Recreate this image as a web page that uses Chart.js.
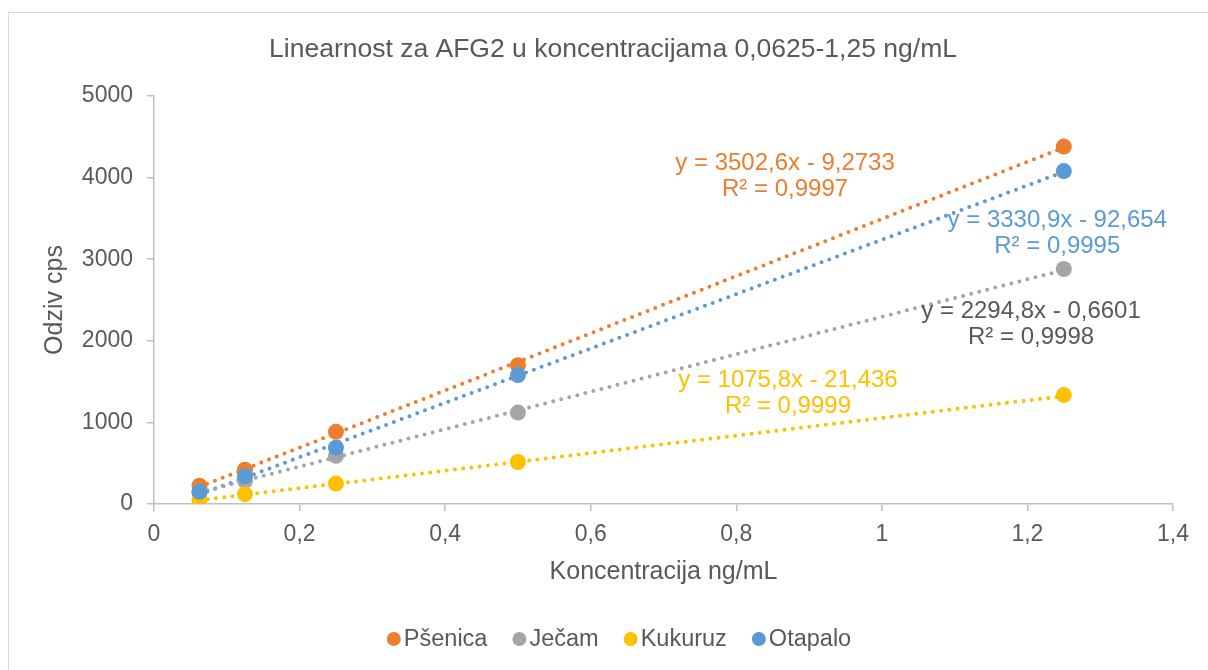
<!DOCTYPE html>
<html>
<head>
<meta charset="utf-8">
<title>Linearnost za AFG2</title>
<script src="https://cdn.jsdelivr.net/npm/chart.js@4.4.1/dist/chart.umd.min.js"></script>
<style>
  html, body { margin: 0; padding: 0; background: #fff; }
  #wrap { width: 1208px; height: 670px; }
</style>
</head>
<body>
<div id="wrap"><canvas id="chart" width="1208" height="670"></canvas></div>
<script>
// data
const concentrations = [0.0625, 0.125, 0.25, 0.5, 1.25];
const seriesNames = ['Pšenica', 'Ječam', 'Kukuruz', 'Otapalo'];
const psenica = [225, 420, 885, 1700, 4380];
const jecam = [145, 285, 590, 1120, 2880];
const kukuruz = [50, 120, 250, 515, 1335];
const otapalo = [150, 340, 690, 1580, 4080];
// trendline equations as printed on the chart
const slopes = [3502.6, 2294.8, 1075.8, 3330.9];
const intercepts = [-9.2733, -0.6601, -21.436, -92.654];
const rSquared = [0.9997, 0.9998, 0.9999, 0.9995];
const xTickLabels = ['0', '0,2', '0,4', '0,6', '0,8', '1', '1,2', '1,4'];
const yTickLabels = ['0', '1000', '2000', '3000', '4000', '5000'];

const FONT = "'Liberation Sans', Arial, sans-serif";
const TEXT = '#595959';
const AXIS = '#bfbfbf';
const colors = ['#ED7D31', '#A5A5A5', '#FFC000', '#5B9BD5'];
const labelColors = ['#ED7D31', '#595959', '#FFC000', '#5B9BD5'];
const values = [psenica, jecam, kukuruz, otapalo];

function fmt(v) {
  return String(v).replace('.', ',');
}

const datasets = [];
values.forEach((vals, i) => {
  datasets.push({
    label: seriesNames[i],
    data: concentrations.map((c, j) => ({ x: c, y: vals[j] })),
    backgroundColor: colors[i],
    borderWidth: 0,
    pointRadius: 8,
    pointHoverRadius: 8,
    showLine: false,
    order: 4 - i
  });
});
values.forEach((vals, i) => {
  const x0 = concentrations[0];
  const x1 = concentrations[concentrations.length - 1];
  datasets.push({
    label: seriesNames[i] + ' trend',
    data: [
      { x: x0, y: slopes[i] * x0 + intercepts[i] },
      { x: x1, y: slopes[i] * x1 + intercepts[i] }
    ],
    showLine: true,
    borderColor: colors[i],
    borderWidth: 4,
    borderDash: [0, 8.3],
    borderCapStyle: 'round',
    pointRadius: 0,
    order: 10 + i
  });
});

const framePlugin = {
  id: 'frame',
  beforeDraw(chart) {
    const ctx = chart.ctx;
    ctx.save();
    ctx.fillStyle = '#fff';
    ctx.fillRect(0, 0, chart.width, chart.height);
    ctx.strokeStyle = '#d9d9d9';
    ctx.lineWidth = 1;
    ctx.strokeRect(8.5, 12.5, 1300, 700);
    ctx.restore();
  }
};

const trendLabels = {
  id: 'trendLabels',
  afterDatasetsDraw(chart, args, opts) {
    const { ctx, scales: { x, y } } = chart;
    ctx.save();
    ctx.font = '24px ' + FONT;
    ctx.textAlign = 'center';
    ctx.textBaseline = 'middle';
    opts.anchors.forEach((a, i) => {
      const px = x.getPixelForValue(a[0]);
      const py = y.getPixelForValue(a[1]);
      const b = intercepts[i];
      ctx.fillStyle = labelColors[i];
      ctx.fillText('y = ' + fmt(slopes[i]) + 'x ' + (b < 0 ? '- ' : '+ ') + fmt(Math.abs(b)), px, py - 13);
      ctx.fillText('R² = ' + fmt(rSquared[i]), px, py + 13);
    });
    ctx.restore();
  }
};

const bottomLegend = {
  id: 'bottomLegend',
  afterDraw(chart, args, opts) {
    const ctx = chart.ctx;
    ctx.save();
    ctx.font = '23.5px ' + FONT;
    ctx.textBaseline = 'middle';
    const r = 7, gapText = 3, gapItem = 25;
    const widths = seriesNames.map(n => 2 * r + gapText + ctx.measureText(n).width);
    const total = widths.reduce((s, w) => s + w, 0) + gapItem * (widths.length - 1);
    let x = opts.centerX - total / 2;
    seriesNames.forEach((n, i) => {
      ctx.fillStyle = colors[i];
      ctx.beginPath();
      ctx.arc(x + r, opts.y, r, 0, Math.PI * 2);
      ctx.fill();
      ctx.fillStyle = TEXT;
      ctx.fillText(n, x + 2 * r + gapText, opts.y + 1);
      x += widths[i] + gapItem;
    });
    ctx.restore();
  }
};

new Chart(document.getElementById('chart'), {
  type: 'scatter',
  data: { datasets: datasets },
  plugins: [framePlugin, trendLabels, bottomLegend],
  options: {
    responsive: false,
    animation: false,
    devicePixelRatio: 1,
    layout: { padding: { left: 18, right: 0, top: 0, bottom: 76 } },
    plugins: {
      legend: { display: false },
      tooltip: { enabled: false },
      title: {
        display: true,
        text: 'Linearnost za AFG2 u koncentracijama 0,0625-1,25 ng/mL',
        color: TEXT,
        font: { family: FONT, size: 26.5, weight: 'normal' },
        padding: { top: 34, bottom: 30.2 }
      },
      trendLabels: {
        anchors: [[0.867, 4020], [1.205, 2200], [0.871, 1360], [1.241, 3321]]
      },
      bottomLegend: { centerX: 619, y: 639 }
    },
    scales: {
      x: {
        type: 'linear',
        min: 0,
        max: 1.4,
        ticks: {
          stepSize: 0.2,
          callback: (v, i) => xTickLabels[i],
          color: TEXT,
          font: { family: FONT, size: 23 },
          padding: 10,
          maxRotation: 0
        },
        grid: { drawOnChartArea: false, drawTicks: true, tickLength: 7, color: AXIS, lineWidth: 1.5 },
        border: { color: AXIS, width: 1.5 },
        title: {
          display: true,
          text: 'Koncentracija ng/mL',
          color: TEXT,
          font: { family: FONT, size: 25 },
          padding: { top: 0, bottom: 7 }
        },
        afterFit: s => { s.height = 90; }
      },
      y: {
        type: 'linear',
        min: 0,
        max: 5000,
        ticks: {
          stepSize: 1000,
          callback: (v, i) => yTickLabels[i],
          color: TEXT,
          font: { family: FONT, size: 23 },
          padding: 14
        },
        grid: { drawOnChartArea: false, drawTicks: true, tickLength: 7, color: AXIS, lineWidth: 1.5 },
        border: { color: AXIS, width: 1.5 },
        title: {
          display: true,
          text: 'Odziv cps',
          color: TEXT,
          font: { family: FONT, size: 25 },
          padding: { top: 22, bottom: 0 }
        },
        afterFit: s => { s.width = 136; }
      },
      yRight: {
        type: 'linear',
        position: 'right',
        display: true,
        ticks: { display: false },
        grid: { display: false },
        border: { display: false },
        afterFit: s => { s.width = 35; }
      }
    }
  }
});
</script>
</body>
</html>
